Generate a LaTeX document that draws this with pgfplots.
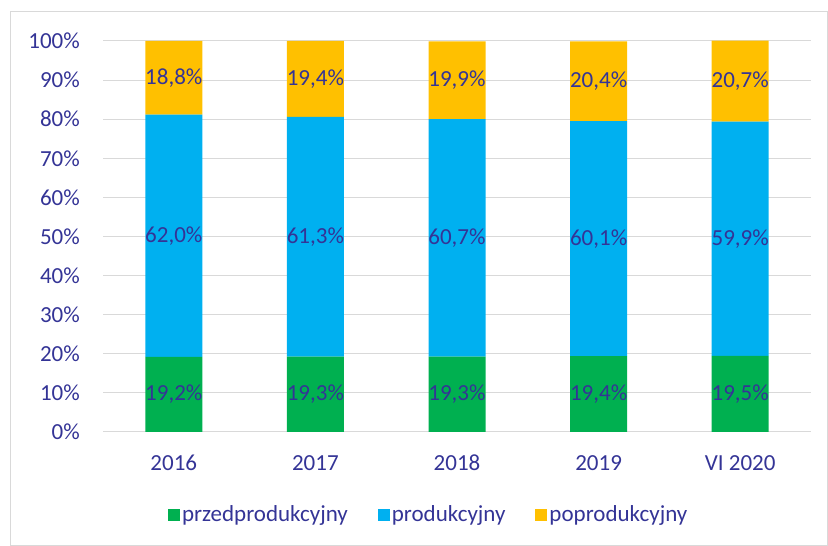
\documentclass[border=0pt]{standalone}
\usepackage{fontspec}
\setmainfont{Carlito}
\usepackage{pgfplots}
\usepackage{pgfplotstable}
\pgfplotsset{compat=1.18}
\definecolor{txt}{RGB}{52,52,150}
\definecolor{cgreen}{RGB}{0,176,80}
\definecolor{cblue}{RGB}{0,176,240}
\definecolor{cyel}{RGB}{255,192,0}
\definecolor{gridc}{RGB}{217,217,217}
\pgfplotstableread{
x pre prod post
0 19.2 62.0 18.8
1 19.3 61.3 19.4
2 19.3 60.7 19.9
3 19.4 60.1 20.4
4 19.5 59.9 20.7
}\data
\begin{document}
\fontsize{23bp}{27bp}\selectfont
\begin{tikzpicture}
\path (0,0) rectangle (828bp,546bp);
\draw[gridc, line width=1bp] (10bp,0.5bp) rectangle (827.5bp,534bp);
\begin{axis}[
  at={(103bp,114bp)}, anchor=south west,
  scale only axis, width=708bp, height=391bp,
  ybar stacked, bar width=57bp,
  xmin=-0.5, xmax=4.5, ymin=0, ymax=100,
  ytick={0,10,...,100}, xtick={0,...,4},
  xticklabels={2016,2017,2018,2019,VI 2020},
  yticklabel={\pgfmathprintnumber{\tick}\%},
  /pgf/number format/assume math mode=true,
  ymajorgrids, grid style={gridc, line width=1bp},
  axis line style={draw=none}, tick style={draw=none},
  ticklabel style={text=txt},
  yticklabel style={inner sep=0pt, xshift=-23bp},
  xticklabel style={inner sep=0pt, yshift=-23bp},
  clip=false,
  point meta=explicit,
  nodes near coords={\pgfmathprintnumber[fixed,fixed zerofill,precision=1,use comma,assume math mode=true]{\pgfplotspointmeta}\%},
  every node near coord/.append style={text=txt, anchor=center, inner sep=0pt},
  legend image code/.code={\fill[#1] (0bp,-6bp) rectangle (12bp,6bp);},
  legend style={at={(0.46,-0.212)}, anchor=center, draw=none, fill=none,
    legend columns=3, text=txt,
    /tikz/every even column/.append style={column sep=28bp}},
]
\addplot[fill=cgreen, draw=none] table[x=x, y=pre, meta=pre] {\data};
\addlegendentry{przedprodukcyjny}
\addplot[fill=cblue, draw=none] table[x=x, y=prod, meta=prod] {\data};
\addlegendentry{produkcyjny}
\addplot[fill=cyel, draw=none] table[x=x, y=post, meta=post] {\data};
\addlegendentry{poprodukcyjny}
\end{axis}
\end{tikzpicture}
\end{document}
